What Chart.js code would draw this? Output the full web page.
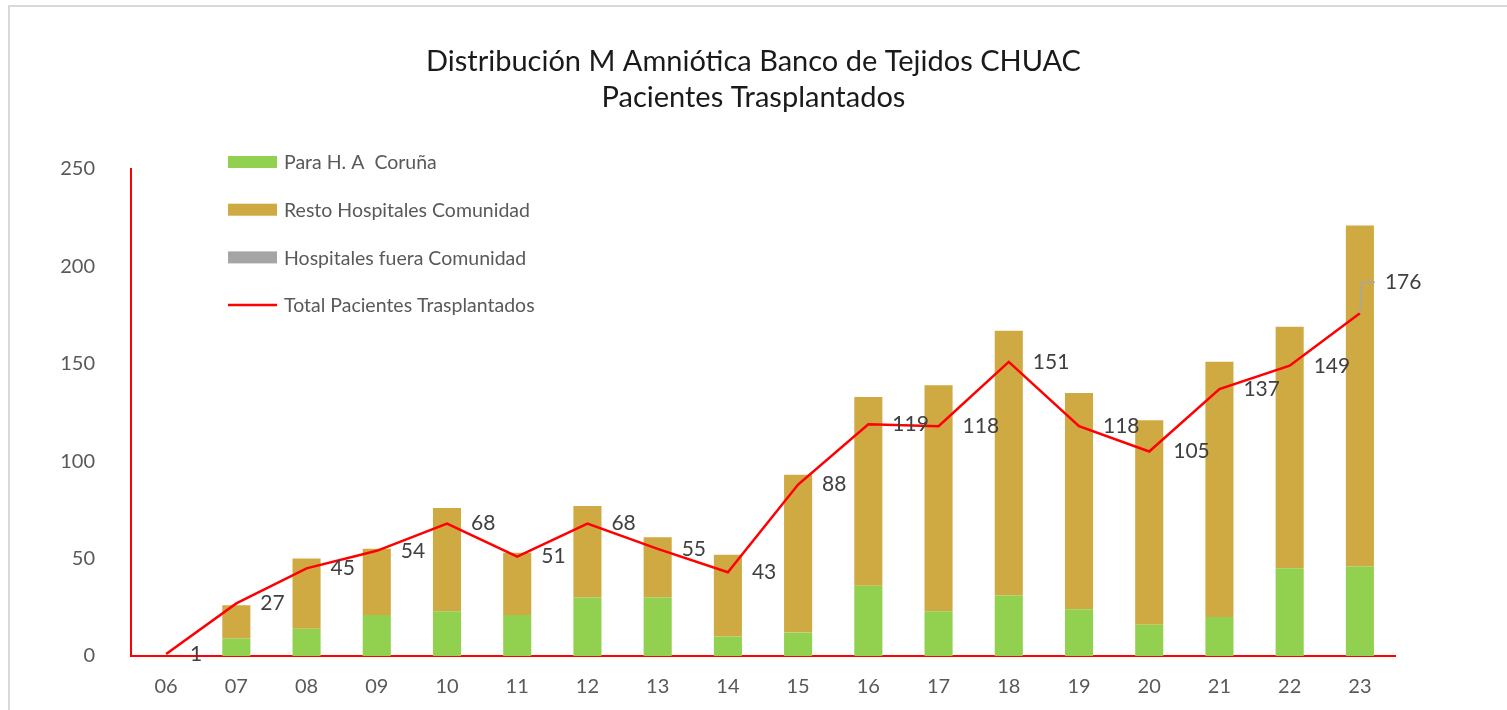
<!DOCTYPE html>
<html lang="es">
<head>
    <meta charset="UTF-8">
    <title>Distribución M Amniótica</title>
    <script src="https://cdn.jsdelivr.net/npm/chart.js"></script>
    <style>
        body{
            margin: 0;
            padding: 0;
            background-color: #fff;
        }
        .frame {
            position: absolute;
            left: 8px;
            top: 5px;
            width: 1600px;
            height: 800px;
            border-top: 2px solid #d9d9d9;
            border-left: 2px solid #d9d9d9;
        }
        .chart-container {
            position: absolute;
            left: 0;
            top: 0;
            width: 1507px;
            height: 710px;
        }
    </style>
</head>
<body>
    <div class="frame"></div>
    <div class="chart-container">
        <canvas id="myChart"></canvas>
    </div>

    <script>
        const years = ['06','07','08','09','10','11','12','13','14','15','16','17','18','19','20','21','22','23'];
        const paraCoruna = [0, 9, 14, 21, 23, 21, 30, 30, 10, 12, 36, 23, 31, 24, 16, 20, 45, 46];
        const restoComunidad = [0, 17, 36, 34, 53, 32, 47, 31, 42, 81, 97, 116, 136, 111, 105, 131, 124, 175];
        const fueraComunidad = [0, 0, 0, 0, 0, 0, 0, 0, 0, 0, 0, 0, 0, 0, 0, 0, 0, 0];
        const totalPacientes = [1, 27, 45, 54, 68, 51, 68, 55, 43, 88, 119, 118, 151, 118, 105, 137, 149, 176];

        const FONT = 'Lato, "Open Sans", sans-serif';

        // labels next to the points of the red line
        const lineLabels = {
            id: 'lineLabels',
            afterDatasetsDraw(chart) {
                const ctx = chart.ctx;
                const meta = chart.getDatasetMeta(3);
                ctx.save();
                ctx.font = '21px ' + FONT;
                ctx.fillStyle = '#404040';
                ctx.textAlign = 'left';
                ctx.textBaseline = 'middle';
                meta.data.forEach((pt, i) => {
                    const last = i === meta.data.length - 1;
                    let x = pt.x + 24;
                    let y = pt.y;
                    if (last) {
                        x = pt.x + 25;
                        y = pt.y - 31;
                        ctx.strokeStyle = '#a6a6a6';
                        ctx.lineWidth = 1.5;
                        ctx.beginPath();
                        ctx.moveTo(pt.x, pt.y);
                        ctx.lineTo(pt.x + 2, y);
                        ctx.lineTo(pt.x + 15, y);
                        ctx.stroke();
                    }
                    ctx.fillText(totalPacientes[i], x, y);
                });
                ctx.restore();
            }
        };

        // vertical legend inside the plot
        const sideLegend = {
            id: 'sideLegend',
            afterDraw(chart) {
                const ctx = chart.ctx;
                const area = chart.chartArea;
                const x0 = area.left + 97;
                let y = 162;
                ctx.save();
                ctx.font = '19.5px ' + FONT;
                ctx.textBaseline = 'middle';
                chart.data.datasets.forEach(ds => {
                    if (ds.type === 'line') {
                        ctx.strokeStyle = ds.borderColor;
                        ctx.lineWidth = 2.5;
                        ctx.beginPath();
                        ctx.moveTo(x0, y);
                        ctx.lineTo(x0 + 49, y);
                        ctx.stroke();
                    } else {
                        ctx.fillStyle = ds.backgroundColor;
                        ctx.fillRect(x0, y - 6, 49, 12);
                    }
                    ctx.fillStyle = '#595959';
                    ctx.fillText(ds.label, x0 + 56, y + 1);
                    y += 47.7;
                });
                ctx.restore();
            }
        };

        const ctx = document.getElementById('myChart');

        new Chart(ctx, {
            data: {
                labels: years,
                datasets: [{
                    type: 'bar',
                    label: 'Para H. A  Coruña',
                    data: paraCoruna,
                    backgroundColor: '#92d050',
                    yAxisID: 'y',
                    order: 1
                }, {
                    type: 'bar',
                    label: 'Resto Hospitales Comunidad',
                    data: restoComunidad,
                    backgroundColor: '#cfaa42',
                    yAxisID: 'y',
                    order: 1
                }, {
                    type: 'bar',
                    label: 'Hospitales fuera Comunidad',
                    data: fueraComunidad,
                    backgroundColor: '#a5a5a5',
                    yAxisID: 'y',
                    order: 1
                }, {
                    type: 'line',
                    label: 'Total Pacientes Trasplantados',
                    data: totalPacientes,
                    borderColor: '#ff0000',
                    backgroundColor: '#ff0000',
                    borderWidth: 2.5,
                    pointRadius: 0,
                    tension: 0,
                    yAxisID: 'y',
                    order: 0
                }]
            },
            options: {
                responsive: true,
                maintainAspectRatio: false,
                animation: false,
                layout: {
                    padding: 0
                },
                datasets: {
                    bar: {
                        categoryPercentage: 1,
                        barPercentage: 0.4
                    }
                },
                plugins: {
                    legend: { display: false },
                    tooltip: { enabled: false },
                    title: {
                        display: true,
                        text: ['Distribución M Amniótica Banco de Tejidos CHUAC', 'Pacientes Trasplantados'],
                        color: '#1a1a1a',
                        font: { family: FONT, size: 29, weight: 'normal', lineHeight: 1.241 },
                        padding: { top: 44, bottom: 53 }
                    }
                },
                scales: {
                    x: {
                        stacked: true,
                        grid: { display: false, drawTicks: false, tickLength: 0 },
                        border: { display: true, color: '#ff0000', width: 2 },
                        ticks: {
                            color: '#595959',
                            font: { family: FONT, size: 20 },
                            padding: 19,
                            maxRotation: 0
                        },
                        afterFit(scale) { scale.height = 54; }
                    },
                    y: {
                        stacked: true,
                        min: 0,
                        max: 250,
                        grid: { display: false, drawTicks: false, tickLength: 0 },
                        border: { display: true, color: '#ff0000', width: 2 },
                        ticks: {
                            stepSize: 50,
                            color: '#595959',
                            font: { family: FONT, size: 20 },
                            padding: 36
                        },
                        afterFit(scale) { scale.width = 131; }
                    },
                    // empty right axis only keeps the space right of the plot
                    yRight: {
                        position: 'right',
                        min: 0,
                        max: 250,
                        grid: { display: false, drawTicks: false },
                        border: { display: false },
                        ticks: { display: false },
                        afterFit(scale) { scale.width = 112; }
                    }
                }
            },
            plugins: [lineLabels, sideLegend]
        });
    </script>
</body>
</html>
